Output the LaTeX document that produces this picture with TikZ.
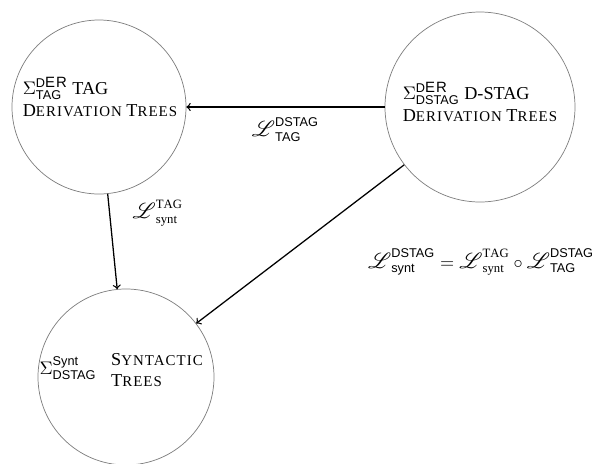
\documentclass[tikz,border=0pt]{standalone}
\usepackage{amsmath,amssymb}
\usepackage{mathrsfs}
\usepackage{fontspec}
\setmainfont{Liberation Serif}
\setsansfont{Liberation Sans}
\usepackage{tikz}
\usepackage{xcolor}

\newcommand{\fsc}[2]{#1{\fontsize{8.2}{9}\selectfont\addfontfeature{LetterSpace=7}#2}}
\newcommand{\Der}{\textsf{\fsc{D}{ER}}}
\newcommand{\Lsc}{\text{\fontsize{12.5}{13}\selectfont$\mathscr{L}$}}

\begin{document}
\begin{tikzpicture}[x=0.55pt,y=-0.55pt,
  world/.style={circle,draw=gray,line width=0.4pt},
  arr/.style={->,line width=0.7pt},
  txt/.style={align=left,inner sep=0pt}]
\useasboundingbox (0,0) rectangle (597,464);
\node[world,minimum size=95.7pt] (tag) at (99,107) {};
\node[world,minimum size=104.5pt] (dstag) at (480,107) {};
\node[world,minimum size=96.8pt] (synt) at (126,377) {};
\node[txt] (tagtxt) at (100,97) {$\Sigma^{\Der}_{\textsf{TAG}}$ TAG\\\fsc{D}{ERIVATION} \fsc{T}{REES}};
\node[txt] (dstagtxt) at (480,102) {$\Sigma^{\Der}_{\textsf{DSTAG}}$ D-STAG\\\fsc{D}{ERIVATION} \fsc{T}{REES}};
\node[txt] (syntsig) at (68,368) {$\Sigma^{\textsf{Synt}}_{\textsf{DSTAG}}$};
\node[txt] (synttxt) at (157,370) {\fsc{S}{YNTACTIC}\\\fsc{T}{REES}};
\draw[arr] (dstag) -- node[below=2pt] {$\Lsc^{\textsf{DSTAG}}_{\textsf{TAG}}$} (tag);
\draw[arr] (tag) -- node[right=9pt,pos=0.2] {$\Lsc^{\mathrm{TAG}}_{\mathrm{synt}}$} (synt);
\draw[arr] (dstag) -- (synt);
\node[inner sep=0pt] (compeq) at (481,262) {$\Lsc^{\textsf{DSTAG}}_{\textsf{synt}} = \Lsc^{\mathrm{TAG}}_{\mathrm{synt}} \circ \Lsc^{\textsf{DSTAG}}_{\textsf{TAG}}$};
\end{tikzpicture}
\end{document}
